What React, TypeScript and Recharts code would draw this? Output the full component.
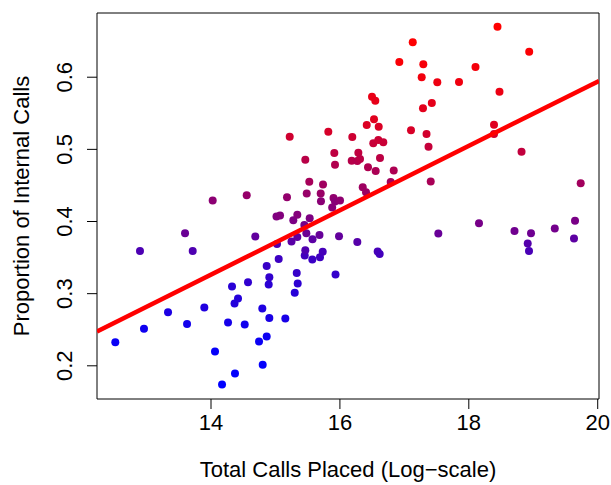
import React from 'react';
import { ScatterChart, Scatter, XAxis, YAxis, ReferenceArea } from 'recharts';

const FONT = '"Liberation Sans", Arial, Helvetica, sans-serif';

// Total calls placed (log-scale)
const totalCallsLog = [
  12.515, 12.898, 12.960, 13.333, 13.597, 13.628, 13.716, 13.896, 14.026, 14.062,
  14.171, 14.264, 14.365, 14.419, 14.326, 14.372, 14.523, 14.554, 14.574, 14.687,
  14.745, 14.796, 14.802, 14.864, 14.864, 14.895, 14.905, 14.905, 15.016, 15.071,
  15.024, 15.050, 15.153, 15.179, 15.221, 15.249, 15.277, 15.299, 15.330, 15.339,
  15.339, 15.345, 15.448, 15.454, 15.463, 15.463, 15.479, 15.485, 15.525, 15.531,
  15.575, 15.572, 15.683, 15.691, 15.733, 15.702, 15.706, 15.738, 15.820, 15.880,
  15.901, 15.924, 16.002, 15.913, 15.924, 15.986, 15.932, 16.183, 16.192, 16.270,
  16.286, 16.312, 16.270, 16.354, 16.405, 16.416, 16.436, 16.498, 16.549, 16.529,
  16.602, 16.518, 16.596, 16.673, 16.622, 16.555, 16.586, 16.617, 16.788, 16.835,
  16.922, 17.103, 17.130, 17.269, 17.294, 17.289, 17.344, 17.375, 17.409, 17.426,
  17.511, 17.527, 17.848, 18.104, 18.158, 18.391, 18.391, 18.445, 18.476, 18.709,
  18.818, 18.914, 18.934, 18.937, 18.965, 19.334, 19.632, 19.648, 19.736,
];

// Proportion of internal calls
const internalShare = [
  0.2328, 0.3593, 0.2512, 0.2744, 0.3838, 0.2578, 0.3593, 0.2807, 0.4292, 0.2198,
  0.1741, 0.2600, 0.2863, 0.2932, 0.3098, 0.1893, 0.2572, 0.4364, 0.3159, 0.3791,
  0.2337, 0.2794, 0.2014, 0.3385, 0.2406, 0.3126, 0.3229, 0.2661, 0.4071, 0.4082,
  0.3690, 0.3482, 0.2655, 0.4337, 0.5176, 0.3722, 0.4019, 0.3011, 0.3288, 0.3787,
  0.4094, 0.3140, 0.3953, 0.3530, 0.3600, 0.4857, 0.3838, 0.4389, 0.4551, 0.4046,
  0.3755, 0.3472, 0.3814, 0.3506, 0.3582, 0.4389, 0.4282, 0.4514, 0.5245, 0.4195,
  0.4327, 0.4276, 0.4292, 0.4950, 0.4788, 0.3794, 0.3265, 0.4843, 0.5172, 0.4839,
  0.4954, 0.4867, 0.3717, 0.4475, 0.4406, 0.5338, 0.4752, 0.5730, 0.5674, 0.5417,
  0.5314, 0.5084, 0.5130, 0.5098, 0.4881, 0.4701, 0.3583, 0.3551, 0.4548, 0.4708,
  0.6210, 0.5264, 0.6483, 0.6000, 0.6180, 0.5571, 0.5213, 0.5037, 0.4553, 0.5643,
  0.5929, 0.3835, 0.5933, 0.6141, 0.3976, 0.5341, 0.5213, 0.6698, 0.5799, 0.3870,
  0.4968, 0.3694, 0.3590, 0.6353, 0.3838, 0.3902, 0.3763, 0.4012, 0.4532,
];

const xTicks = [14, 16, 18, 20];
const yTicks = [0.2, 0.3, 0.4, 0.5, 0.6];
const xDomain: [number, number] = [12.231, 20.02];
const yDomain: [number, number] = [0.154, 0.689];

// fitted regression line
const fitIntercept = -0.298;
const fitSlope = 0.0446;

const n = Math.min(totalCallsLog.length, internalShare.length);
const order = internalShare
  .slice(0, n)
  .map((v, i) => ({ v, i }))
  .sort((a, b) => a.v - b.v);
const rankOf: number[] = new Array(n);
order.forEach((o, r) => {
  rankOf[o.i] = r;
});

const points = totalCallsLog.slice(0, n).map((x, i) => {
  const t = n > 1 ? rankOf[i] / (n - 1) : 0;
  const r = Math.round(255 * t);
  const b = Math.round(255 * (1 - t));
  return { x, y: internalShare[i], color: `rgb(${r},0,${b})` };
});

const fitData = xDomain.map((x) => ({ x, y: fitIntercept + fitSlope * x }));

const XTick = (props: any) => {
  const { x, y, payload } = props;
  return (
    <text x={x} y={y + 20.5} textAnchor="middle" fontSize={22} fontFamily={FONT} fill="#000">
      {String(payload.value)}
    </text>
  );
};

const YTick = (props: any) => {
  const { x, y, payload } = props;
  const bx = x - 15;
  return (
    <text
      x={bx}
      y={y}
      transform={`rotate(-90 ${bx} ${y})`}
      textAnchor="middle"
      fontSize={22}
      fontFamily={FONT}
      fill="#000"
    >
      {Number(payload.value).toFixed(1)}
    </text>
  );
};

const Dot = (p: any) => <circle cx={p.cx} cy={p.cy} r={4} fill={p.payload.color} />;

export default function App() {
  return (
    <div style={{ position: 'absolute', left: 0, top: 0, width: 611, height: 485, background: '#fff' }}>
      <ScatterChart width={611} height={485} margin={{ top: 13, right: 12, bottom: 0, left: 0 }}>
        <XAxis
          type="number"
          dataKey="x"
          domain={xDomain}
          allowDataOverflow
          ticks={xTicks}
          interval={0}
          height={86}
          axisLine={false}
          tickSize={10}
          tickMargin={0}
          tickLine={{ stroke: '#000', strokeWidth: 1 }}
          tick={<XTick />}
        />
        <YAxis
          type="number"
          dataKey="y"
          domain={yDomain}
          allowDataOverflow
          ticks={yTicks}
          interval={0}
          width={97}
          axisLine={false}
          tickSize={10}
          tickMargin={0}
          tickLine={{ stroke: '#000', strokeWidth: 1 }}
          tick={<YTick />}
        />
        <ReferenceArea
          x1={xDomain[0]}
          x2={xDomain[1]}
          y1={yDomain[0]}
          y2={yDomain[1]}
          fill="none"
          fillOpacity={0}
          stroke="#000"
          strokeWidth={1}
          ifOverflow="visible"
        />
        <Scatter data={points} shape={<Dot />} isAnimationActive={false} />
        <Scatter
          data={fitData}
          line={{ stroke: '#ff0000', strokeWidth: 4.5 }}
          shape={() => <g />}
          isAnimationActive={false}
        />
      </ScatterChart>
      <svg
        width={611}
        height={485}
        style={{ position: 'absolute', left: 0, top: 0, pointerEvents: 'none' }}
      >
        <text
          x={28.5}
          y={206}
          transform="rotate(-90 28.5 206)"
          textAnchor="middle"
          fontSize={22}
          fontFamily={FONT}
          fill="#000"
        >
          Proportion of Internal Calls
        </text>
        <text x={348} y={477} textAnchor="middle" fontSize={22} fontFamily={FONT} fill="#000">
          Total Calls Placed (Log−scale)
        </text>
      </svg>
    </div>
  );
}
